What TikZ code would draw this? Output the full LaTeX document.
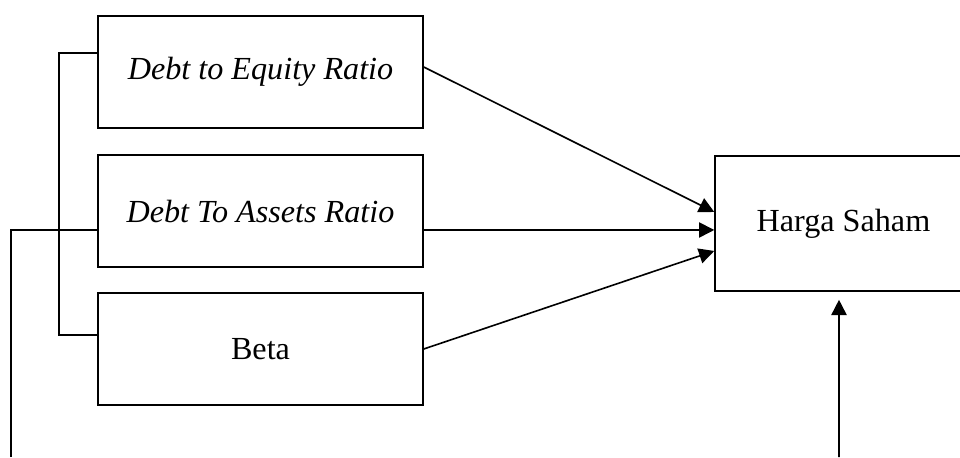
\documentclass[tikz,border=0pt]{standalone}
\usepackage{fontspec}
\setmainfont{Liberation Serif}
\usetikzlibrary{arrows.meta,positioning}

\begin{document}
\begin{tikzpicture}[x = 0.0131cm,
                    y = -0.0131cm,
                    line width = 0.6pt,
                    font = \fontsize{12}{14}\selectfont]
% style of boxes and arrows
\tikzset{varbox/.style={draw=black,minimum width=4.258cm,minimum height=1.467cm,inner sep=0pt},
         hsbox/.style={draw=black,minimum width=3.367cm,minimum height=1.769cm,inner sep=0pt},
         arr/.style={-{Triangle[length=2mm,width=2mm]}}}
\useasboundingbox (0,0) rectangle (960,457);
% boxes
\node[varbox] (der)  at (260.5,72)  {\textit{Debt to Equity Ratio}};
\node[varbox] (dtar) at (260.5,211) {\textit{Debt To Assets Ratio}};
\node[varbox] (beta) at (260.5,349) {Beta};
\node[hsbox]  (hs)   at (843.5,223.5) {Harga Saham};
% free ends at the bottom edge
\coordinate (B1) at (11,457);
\coordinate (B2) at (839,457);

% arrows into harga saham
\draw[arr] ([yshift=0.0655cm]der.east) -- ([yshift=0.151cm]hs.west);
\draw[arr] ([yshift=-0.249cm]dtar.east) -- ([yshift=-0.085cm]hs.west);
\draw[arr] (beta.east) -- ([yshift=-0.360cm]hs.west);
\draw[arr] (B2) -- ([xshift=-0.059cm,yshift=-0.105cm]hs.south);

% bracket
\draw ([yshift=0.249cm]der.west) -- ++(-38,0) |- ([yshift=0.183cm]beta.west);
\draw (B1) |- ([yshift=-0.249cm]dtar.west);
\end{tikzpicture}
\end{document}
